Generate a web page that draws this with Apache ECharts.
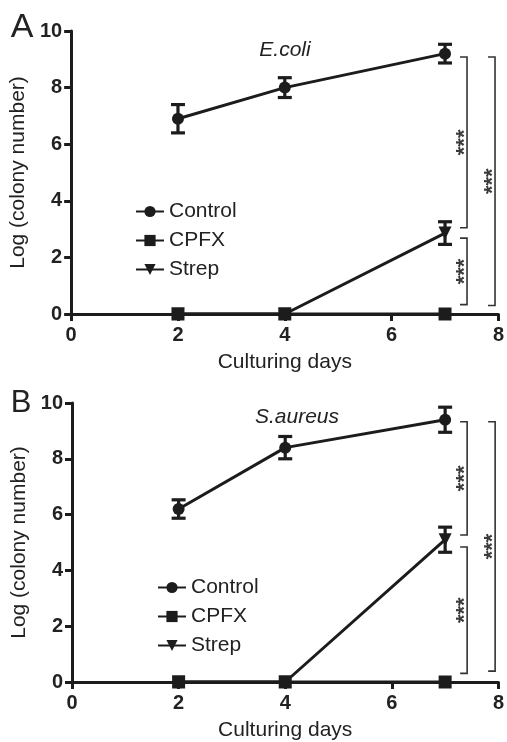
<!DOCTYPE html>
<html>
<head>
<meta charset="utf-8">
<script src="https://cdn.jsdelivr.net/npm/echarts@6/dist/echarts.min.js"></script>
<style>
  html, body { margin: 0; padding: 0; background: #fff; }
  #chart { width: 507px; height: 742px; }
</style>
</head>
<body>
<div id="chart"></div>
<script>
const days = [2, 4, 7]
const xTicks = [0, 2, 4, 6, 8]
const yTicks = [0, 2, 4, 6, 8, 10]
const seriesNames = ['Control', 'CPFX', 'Strep']

// panel A, E.coli
const ecoliControl = [6.9, 8.0, 9.2]
const ecoliControlErr = [0.5, 0.35, 0.33]
const ecoliCpfx = [0, 0, 0]
const ecoliStrep = [0, 0, 2.86]
const ecoliStrepErr = [0, 0, 0.4]
// significance brackets: [top, bottom, outer?]
const ecoliSig = [[9.08, 3.05, 0], [2.68, 0.33, 0], [9.08, 0.3, 1]]

// panel B, S.aureus
const saureusControl = [6.2, 8.4, 9.4]
const saureusControlErr = [0.33, 0.4, 0.45]
const saureusCpfx = [0, 0, 0]
const saureusStrep = [0, 0, 5.1]
const saureusStrepErr = [0, 0, 0.45]
const saureusSig = [[9.33, 5.27, 0], [4.84, 0.31, 0], [9.33, 0.39, 1]]

const FONT = '"Liberation Sans", Arial, sans-serif'
const INK = '#1c1c1c'

const chart = echarts.init(document.getElementById('chart'))

function pairs(ys) {
  return days.map((d, i) => [d, ys[i]])
}
function errData(ys, errs) {
  return days.map((d, i) => [d, ys[i], errs[i]])
}

function renderErr(params, api) {
  const err = api.value(2)
  if (!err) return
  const x = api.value(0)
  const y = api.value(1)
  const top = api.coord([x, y + err])
  const bot = api.coord([x, y - err])
  const w = 7
  const style = { stroke: INK, lineWidth: 3.2 }
  return {
    type: 'group',
    children: [
      { type: 'line', shape: { x1: top[0], y1: top[1], x2: bot[0], y2: bot[1] }, style },
      { type: 'line', shape: { x1: top[0] - w, y1: top[1], x2: top[0] + w, y2: top[1] }, style },
      { type: 'line', shape: { x1: bot[0] - w, y1: bot[1], x2: bot[0] + w, y2: bot[1] }, style },
    ],
  }
}

function renderBracket(params, api) {
  const top = api.coord([7, api.value(0)])
  const bot = api.coord([7, api.value(1)])
  const outer = api.value(2)
  const lx = top[0] + (outer ? 50 : 22)
  const tick = 7
  const mid = (top[1] + bot[1]) / 2
  return {
    type: 'group',
    children: [
      {
        type: 'polyline',
        shape: { points: [[lx - tick, top[1]], [lx, top[1]], [lx, bot[1]], [lx - tick, bot[1]]] },
        style: { stroke: '#333', lineWidth: 1.6, fill: null },
      },
      {
        type: 'text',
        x: lx - 2,
        y: mid,
        rotation: Math.PI / 2,
        style: {
          text: '***', x: 0, y: 0, align: 'center', verticalAlign: 'middle',
          fontSize: 22, fontWeight: 'bold', fontFamily: FONT, fill: '#3a3a3a',
        },
      },
    ],
  }
}

function panelSeries(idx, control, controlErr, cpfx, strep, strepErr, sig) {
  const base = { xAxisIndex: idx, yAxisIndex: idx }
  const lineStyle = { color: INK, width: 3 }
  return [
    {
      ...base, type: 'custom', name: 'err', renderItem: renderErr, z: 2,
      data: errData(control, controlErr).concat(errData(strep, strepErr)),
    },
    { ...base, type: 'custom', name: 'sig', renderItem: renderBracket, z: 2, data: sig },
    {
      ...base, type: 'line', name: 'Control', data: pairs(control), symbol: 'circle', symbolSize: 12,
      lineStyle, itemStyle: { color: INK }, z: 3,
    },
    {
      ...base, type: 'line', name: 'Strep', data: pairs(strep), symbol: 'triangle', symbolRotate: 180,
      symbolSize: 13, lineStyle, itemStyle: { color: INK }, z: 3,
    },
    {
      ...base, type: 'line', name: 'CPFX', data: pairs(cpfx), symbol: 'rect', symbolSize: 13,
      lineStyle, itemStyle: { color: INK }, z: 4,
    },
  ]
}

function xAxis(gridIndex) {
  return {
    gridIndex, type: 'value', min: 0, max: 8, interval: 2,
    name: 'Culturing days', nameLocation: 'middle', nameGap: 38,
    nameTextStyle: { fontFamily: FONT, fontSize: 21, color: '#222' },
    axisLine: { lineStyle: { color: INK, width: 3 } },
    axisTick: { length: 7, lineStyle: { color: INK, width: 3 } },
    axisLabel: {
      margin: 11, fontFamily: FONT, fontSize: 20, fontWeight: 'bold', color: '#222',
      customValues: xTicks,
    },
    splitLine: { show: false },
  }
}

function yAxis(gridIndex) {
  return {
    gridIndex, type: 'value', min: 0, max: 10, interval: 2,
    name: 'Log (colony number)', nameLocation: 'middle', nameGap: 37,
    nameTextStyle: { fontFamily: FONT, fontSize: 21, color: '#222' },
    axisLine: { show: true, lineStyle: { color: INK, width: 3 } },
    axisTick: { show: true, length: 7, lineStyle: { color: INK, width: 3 } },
    axisLabel: {
      margin: 9, fontFamily: FONT, fontSize: 20, fontWeight: 'bold', color: '#222',
      customValues: yTicks,
    },
    splitLine: { show: false },
  }
}

function legend(left, top) {
  return {
    data: seriesNames, orient: 'vertical', left, top, padding: 0,
    itemWidth: 28, itemHeight: 14, itemGap: 8,
    textStyle: { fontFamily: FONT, fontSize: 21, color: '#222' },
    selectedMode: false,
  }
}

function label(text, x, y, size, italic) {
  return {
    type: 'text', x, y,
    style: {
      text, align: 'center', verticalAlign: 'middle', fill: '#222',
      fontFamily: FONT, fontSize: size, fontStyle: italic ? 'italic' : 'normal',
    },
  }
}

chart.setOption({
  animation: false,
  backgroundColor: '#fff',
  grid: [
    { left: 71, right: 7, top: 31, height: 283 },
    { left: 72, right: 7, top: 403, height: 283 },
  ],
  xAxis: [xAxis(0), xAxis(1)],
  yAxis: [yAxis(0), yAxis(1)],
  legend: [legend(135, 201), legend(157, 577)],
  graphic: [
    label('A', 22, 28, 34, false),
    label('B', 21, 403, 31, false),
    label('E.coli', 285, 50, 21, true),
    label('S.aureus', 297, 417, 21, true),
  ],
  series: [
    ...panelSeries(0, ecoliControl, ecoliControlErr, ecoliCpfx, ecoliStrep, ecoliStrepErr, ecoliSig),
    ...panelSeries(1, saureusControl, saureusControlErr, saureusCpfx, saureusStrep, saureusStrepErr, saureusSig),
  ],
})
</script>
</body>
</html>
